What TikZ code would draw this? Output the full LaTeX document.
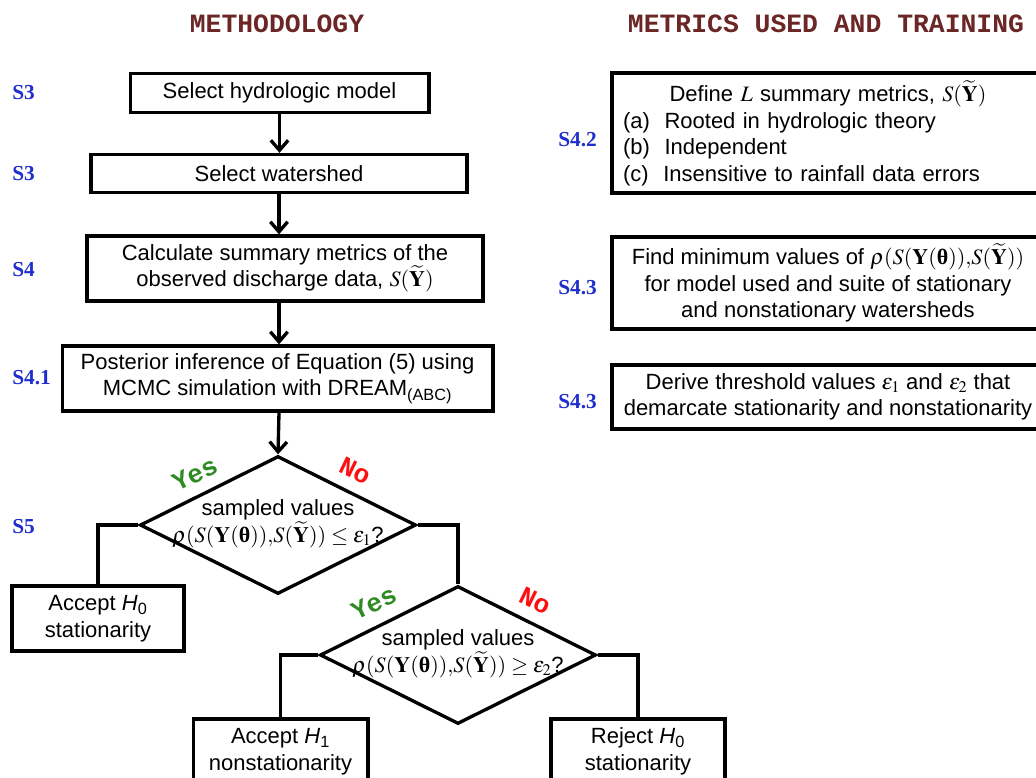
\documentclass[tikz,border=0pt]{standalone}
\usepackage{amsmath}
\usepackage{mathptmx}
\usepackage{fontspec}
\setmainfont{Liberation Sans}
\newfontfamily\secfont{Liberation Serif}
\newfontfamily\headfont{Liberation Mono}
\definecolor{hdred}{HTML}{6B2626}
\definecolor{secblue}{HTML}{1F2ECC}
\definecolor{yesgreen}{HTML}{2E8B22}
\definecolor{nored}{HTML}{FF1010}
\usetikzlibrary{arrows.meta,shapes.geometric}
\newcommand{\Yt}{S(\widetilde{\mathbf{Y}})}
\newcommand{\bth}{\mbox{\secfont\bfseries θ}}
\newcommand{\dist}{\rho(S(\mathbf{Y}(\bth))\mathord{,}\Yt)}

\begin{document}
\begin{tikzpicture}[x=0.75pt,y=-0.75pt,
  box/.style={draw,line width=2.5pt,align=center,inner sep=0pt,font=\fontsize{16.5}{19.9}\selectfont},
  decision/.style={draw,diamond,line width=2.5pt,inner sep=0pt,minimum width=207pt,minimum height=103.5pt},
  dtext/.style={align=center,inner sep=0pt,font=\fontsize{16.5}{20.5}\selectfont},
  heading/.style={font=\headfont\bfseries\fontsize{19.8}{22}\selectfont,text=hdred},
  secref/.style={anchor=west,inner sep=0pt,font=\secfont\bfseries\fontsize{16}{18}\selectfont,text=secblue},
  yeslab/.style={font=\headfont\bfseries\fontsize{19.5}{22}\selectfont,text=yesgreen,rotate=26},
  nolab/.style={font=\headfont\bfseries\fontsize{19.5}{22}\selectfont,text=nored,rotate=-26},
  ar/.style={-{Straight Barb[length=7.5pt,width=13pt]},line width=2.5pt},
  ln/.style={line width=2.5pt}]
\useasboundingbox (0,0) rectangle (1036,778);

% headings
\node[heading] (hmeth) at (277,24) {METHODOLOGY};
\node[heading] (hmetr) at (826,24) {METRICS USED AND TRAINING};

% methodology column
\node[box,minimum width=224pt,minimum height=29pt] (model) at (279.5,93) {Select hydrologic model};
\node[box,minimum width=282pt,minimum height=28.5pt] (shed) at (279,173.5) {Select watershed};
\node[box,minimum width=297pt,minimum height=48.75pt] (calc) at (285,268.5)
  {Calculate summary metrics of the\\observed discharge data, $\Yt$};
\node[box,minimum width=323pt,minimum height=48.75pt] (post) at (277.5,378.5)
  {Posterior inference of Equation (5) using\\MCMC simulation with DREAM\textsubscript{(ABC)}};

\node[decision,label={[name=d1t,dtext,yshift=1pt]center:{sampled values\\$\dist\le\varepsilon_1$?}}] (d1) at (278,525) {};
\node[decision,label={[name=d2t,dtext,yshift=1pt]center:{sampled values\\$\dist\ge\varepsilon_2$?}}] (d2) at (458,655) {};

\node[box,minimum width=129pt,minimum height=48.75pt] (acc0) at (98,618.5) {Accept \textit{H}\textsubscript{0}\\stationarity};
\node[box,minimum width=131pt,minimum height=48.75pt] (acc1) at (280.5,751.5) {Accept \textit{H}\textsubscript{1}\\nonstationarity};
\node[box,minimum width=130.5pt,minimum height=48.75pt] (rej0) at (638,751.5) {Reject \textit{H}\textsubscript{0}\\stationarity};

\node[yeslab] (yes1) at (195,474) {Yes};
\node[nolab] (no1) at (355,471) {No};
\node[yeslab] (yes2) at (374,603) {Yes};
\node[nolab] (no2) at (535,601) {No};

% metrics column
\node[box,minimum width=324pt,minimum height=90pt,text width=307.5pt,align=left] (metr) at (828,133)
  {\makebox[307.5pt]{Define $L$ summary metrics, $\Yt$}\\
   (a)\ \ Rooted in hydrologic theory\\(b)\ \ Independent\\(c)\ \ Insensitive to rainfall data errors};
\node[box,minimum width=324pt,minimum height=69pt] (minv) at (828,283)
  {Find minimum values of $\dist$\\for model used and suite of stationary\\and nonstationary watersheds};
\node[box,minimum width=324pt,minimum height=48pt] (thr) at (828,397)
  {Derive threshold values $\varepsilon_1$ and $\varepsilon_2$ that\\demarcate stationarity and nonstationarity};

% section references
\node[secref] (s3a) at (12,93) {S3};
\node[secref] (s3b) at (12,174) {S3};
\node[secref] (s4) at (12,270) {S4};
\node[secref] (s41) at (12,378) {S4.1};
\node[secref] (s5) at (12,527) {S5};
\node[secref] (s42) at (558,140) {S4.2};
\node[secref] (s43a) at (558,288) {S4.3};
\node[secref] (s43b) at (558,402) {S4.3};

% connectors
\draw[ar] (model.south) -- (model.south |- shed.north);
\draw[ar] (shed.south) -- (shed.south |- calc.north);
\draw[ar] (shed.south |- calc.south) -- (shed.south |- post.north);
\draw[ar] (shed.south |- post.south) -- (d1.north);
\draw[ln] (d1.west) -| (acc0.north);
\draw[ln] (d1.east) -| (d2.north);
\draw[ln] (d2.west) -| (acc1.north);
\draw[ln] (d2.east) -| (rej0.north);
\end{tikzpicture}
\end{document}
